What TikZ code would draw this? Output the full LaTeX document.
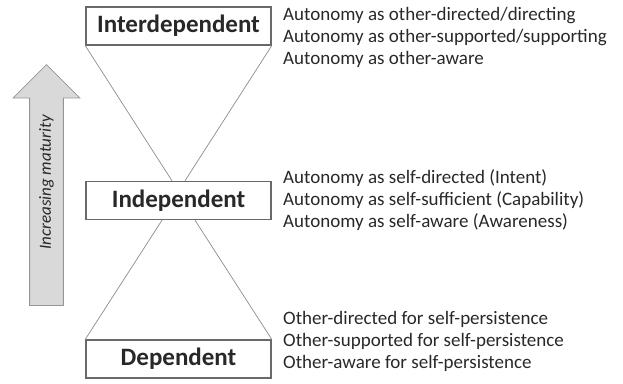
\documentclass[tikz,border=0pt]{standalone}
\usepackage{fontspec}
\setmainfont{Carlito}
\usepackage{xcolor}
\usepackage{tikz}
\usetikzlibrary{shapes, shapes.arrows, positioning}
\definecolor{boxgray}{RGB}{105,105,105}
\definecolor{linegray}{RGB}{140,140,140}
\definecolor{textgray}{RGB}{40,40,40}
\definecolor{arrowfill}{RGB}{217,217,217}
\definecolor{arrowdraw}{RGB}{150,150,150}
\tikzset{
    levelnode/.style = {draw=boxgray, rectangle, line width=1.4pt, fill=white, minimum width=185pt,
      minimum height=38pt, inner sep=0pt, node distance=0em, text=textgray,
      font=\fontsize{25}{30}\selectfont\bfseries},
    listnode/.style = {draw=none, fill=none, rectangle, inner sep=0em, node distance=0em,
      align=left, text=textgray, font=\fontsize{19}{22}\selectfont},
    arrownode/.style = {single arrow, draw=arrowdraw, fill=arrowfill, line width=0.8pt,
      minimum height=241pt, minimum width=67pt, single arrow head extend=16.5pt,
      single arrow tip angle=90, inner ysep=9pt, text=textgray,
      font=\fontsize{17}{20}\selectfont\itshape},
    funnel/.style = {draw=linegray, line width=0.7pt}
}
\begin{document}
\begin{tikzpicture}
    \useasboundingbox (0,0) rectangle (623pt,-383pt);

    \node [name=Inter, levelnode] at (178.5pt,-26pt) {Interdependent};
    \node [name=Indep, levelnode, below of = Inter, yshift=-174.5pt] {Independent};
    \node [name=Dep, levelnode, below of = Indep, yshift=-158.5pt] {Dependent};

    \draw [funnel] (Inter.south west) -- ([xshift=-6.5pt]Indep.north);
    \draw [funnel] (Inter.south east) -- ([xshift=6.5pt]Indep.north);
    \draw [funnel] ([xshift=-16.5pt]Indep.south) -- (Dep.north west);
    \draw [funnel] ([xshift=16.5pt]Indep.south) -- (Dep.north east);

    \node [name=InterList, listnode, right of = Inter, xshift=104.5pt, yshift=-11pt, anchor=west]
      {Autonomy as other-directed/directing\\Autonomy as other-supported/supporting\\Autonomy as other-aware};
    \node [name=IndepList, listnode, right of = Indep, xshift=104.5pt, yshift=0pt, anchor=west]
      {Autonomy as self-directed (Intent)\\Autonomy as self-sufficient (Capability)\\Autonomy as self-aware (Awareness)};
    \node [name=DepList, listnode, right of = Dep, xshift=104.5pt, yshift=18pt, anchor=west]
      {Other-directed for self-persistence\\Other-supported for self-persistence\\Other-aware for self-persistence};

    \node [name=Maturity, arrownode, rotate=90] at (46.5pt,-193.5pt) {\hspace{22pt}Increasing maturity};
\end{tikzpicture}
\end{document}
